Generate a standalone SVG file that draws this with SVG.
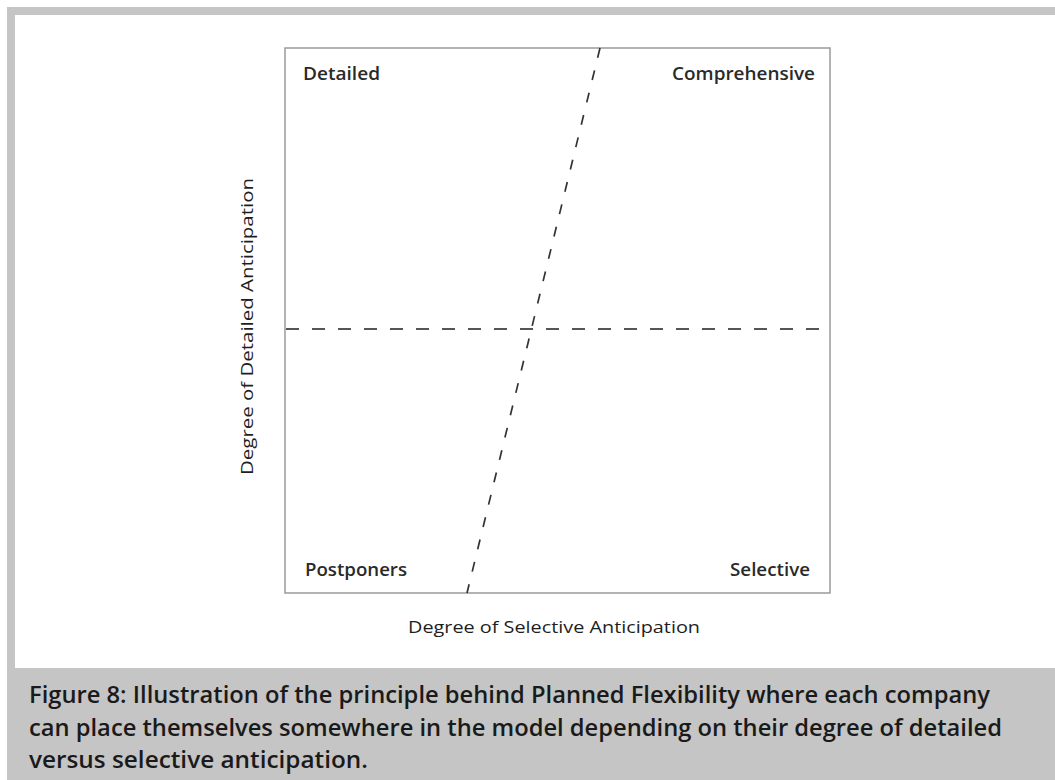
<svg xmlns="http://www.w3.org/2000/svg" width="1055" height="780" viewBox="0 0 1055 780">
<style>
.lbl{font-family:"Open Sans","Noto Sans",sans-serif;font-size:17.5px;font-weight:600;fill:#2a2a2a}
.ax{font-family:"Open Sans","Noto Sans",sans-serif;font-size:16.5px;font-weight:500;fill:#1e1e1e}
.cap{font-family:"Open Sans","Noto Sans",sans-serif;font-size:24px;font-weight:600;fill:#1a1a1a}
</style>
<rect x="0" y="0" width="1055" height="780" fill="#ffffff"/>
<rect id="frame" x="7" y="7" width="1048" height="773" fill="#c5c5c5"/>
<rect x="15" y="15" width="1040" height="653" fill="#ffffff"/>
<g id="chart">
<rect x="285" y="48" width="545" height="545" fill="none" stroke="#9a9a9a" stroke-width="1.5"/>
</g>
<g id="connectors">
<line x1="286" y1="329" x2="830" y2="329" stroke="#555" stroke-width="2" stroke-dasharray="13 13"/>
<line x1="600" y1="48" x2="467" y2="593" stroke="#333" stroke-width="1.7" stroke-dasharray="10 13"/>
</g>
<g id="q-detailed"><text class="lbl" x="303" y="80" textLength="77" lengthAdjust="spacingAndGlyphs">Detailed</text></g>
<g id="q-comprehensive"><text class="lbl" x="672" y="80" textLength="143" lengthAdjust="spacingAndGlyphs">Comprehensive</text></g>
<g id="q-postponers"><text class="lbl" x="305" y="576" textLength="102" lengthAdjust="spacingAndGlyphs">Postponers</text></g>
<g id="q-selective"><text class="lbl" x="730" y="576" textLength="80" lengthAdjust="spacingAndGlyphs">Selective</text></g>
<g id="x-axis"><text class="ax" x="408" y="633" textLength="292" lengthAdjust="spacingAndGlyphs">Degree of Selective Anticipation</text></g>
<g id="y-axis"><text class="ax" transform="translate(253,475) rotate(-90)" x="0" y="0" textLength="297" lengthAdjust="spacingAndGlyphs">Degree of Detailed Anticipation</text></g>
<g id="caption">
<text class="cap" x="29" y="703" textLength="961" lengthAdjust="spacingAndGlyphs">Figure 8: Illustration of the principle behind Planned Flexibility where each company</text>
<text class="cap" x="29" y="736" textLength="973" lengthAdjust="spacingAndGlyphs">can place themselves somewhere in the model depending on their degree of detailed</text>
<text class="cap" x="29" y="768" textLength="339" lengthAdjust="spacingAndGlyphs">versus selective anticipation.</text>
</g>
</svg>
